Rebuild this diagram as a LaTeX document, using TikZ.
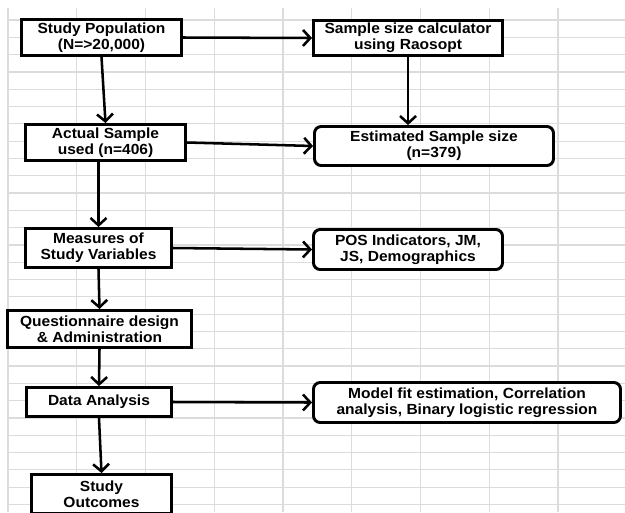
\documentclass[tikz,border=0pt]{standalone}
\usepackage{fontspec}
\newfontfamily\boxfont[FakeStretch=1.06]{Liberation Sans}
\usetikzlibrary{arrows.meta}
\definecolor{gridgray}{RGB}{220,220,220}

\begin{document}
\begin{tikzpicture}[x=0.75pt, y=-0.75pt,
	stage/.style={draw, line width=2.2pt, fill=white, align=center, inner sep=0pt,
		font=\boxfont\bfseries\fontsize{11}{12.2}\selectfont},
	result/.style={stage, rounded corners=5pt},
	flow/.style={-{Straight Barb[length=5.5pt,width=12pt]}, line width=1.9pt}]

	\clip (0,0) rectangle (625,512);
	\fill[white] (0,0) rectangle (625,512);

	% spreadsheet grid
	\foreach \k in {0,...,8}
		\draw[gridgray, line width=0.9pt] (8+68.75*\k, 8) -- (8+68.75*\k, 512);
	\foreach \k in {0,...,28}
		\draw[gridgray, line width=0.9pt] (8, 20+17.3*\k) -- (625, 20+17.3*\k);

	% left column
	\node[stage, minimum width=120pt, minimum height=27pt] (pop) at (101.5, 37.5) {Study Population\\(N=>20,000)};
	\node[stage, minimum width=120pt, minimum height=27pt] (actual) at (105.5, 142.5) {Actual Sample\\used (n=406)};
	\node[stage, minimum width=109.5pt, minimum height=29.25pt] (meas) at (98.5, 248) {Measures of\\Study Variables};
	\node[stage, minimum width=138pt, minimum height=27.75pt] (quest) at (99.5, 329) {Questionnaire design\\\& Administration};
	\node[stage, minimum width=108.75pt, minimum height=21.75pt] (data) at (99, 402) {Data Analysis};
	\node[stage, minimum width=105pt, minimum height=29.25pt] (outc) at (101.5, 494) {Study\\Outcomes};

	% right column
	\node[stage, minimum width=141.75pt, minimum height=26.25pt] (calc) at (408, 38) {Sample size calculator\\using Raosopt};
	\node[result, minimum width=179.25pt, minimum height=29.25pt] (est) at (434, 146) {Estimated Sample size\\(n=379)};
	\node[result, minimum width=141.75pt, minimum height=30pt] (pos) at (408, 249.5) {POS Indicators, JM,\\JS, Demographics};
	\node[result, minimum width=230.25pt, minimum height=30pt] (model) at (467, 402.5) {Model fit estimation, Correlation\\analysis, Binary logistic regression};

	% arrows
	\draw[flow] (pop.east) -- (calc.west);
	\draw[flow] (pop.south) -- (actual.north);
	\draw[flow] (calc.south west) ++(96,0) coordinate (c1) -- (c1 |- est.north);
	\draw[flow] (actual.east) -- (est.west);
	\draw[flow] (actual.south -| meas) -- (meas.north);
	\draw[flow] (meas.east) -- (pos.west);
	\draw[flow] (meas.south) -- (quest.north);
	\draw[flow] (quest.south) -- (data.north);
	\draw[flow] (data.east) -- (model.west);
	\draw[flow] (data.south) -- (outc.north);
\end{tikzpicture}
\end{document}
